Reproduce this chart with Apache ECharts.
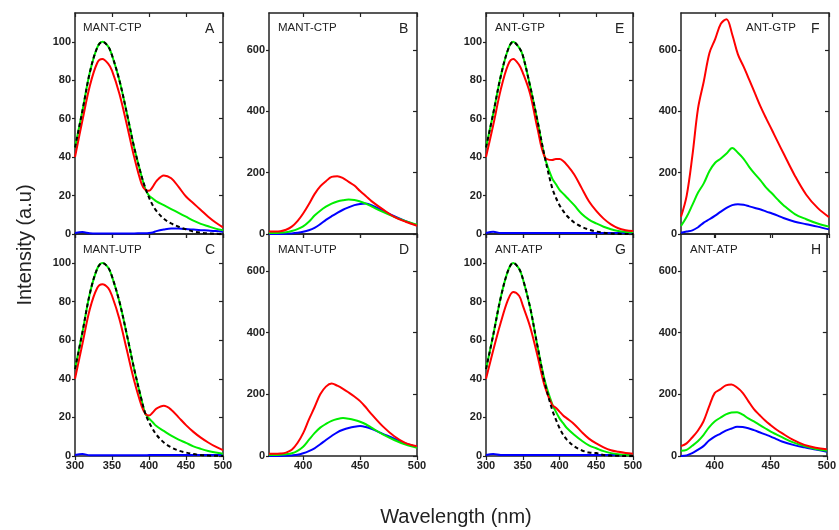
<!DOCTYPE html>
<html><head><meta charset="utf-8">
<script src="https://cdn.jsdelivr.net/npm/echarts@6/dist/echarts.min.js"></script>
<style>html,body{margin:0;padding:0;background:#fff}#c{width:839px;height:530px}</style>
</head><body><div id="c"></div>
<script>
// ---- wavelength grids (nm)
const wlUV  = [300,310,320,330,337,345,350,360,370,380,390,395,400,405,410,420,430,440,450,460,470,480,490,500];
const wlVis = [370,375,380,385,390,395,400,405,410,415,420,425,430,435,440,445,450,455,460,470,480,490,500];

// ---- Panel A: MANT-CTP (normalised)
const blackA = [45,64,84,97,100,97.5,93,80,63,45,30,24,19,15,12,8,5.5,3.8,2.4,1.3,0.7,0.3,0.1,0];
const greenA = [45,64,84,97,100,97.5,93,80,63,45,30,23.5,20,18.5,17,15,13,11,9,7,5.3,4,2.8,2];
const redA   = [40,59,77,89,91,88.5,85,73,57,40,26,23,22.5,24.5,27.5,30.5,29,24.5,19.5,16,12.5,9,6,3.5];
const blueA  = [0.5,1,0.4,0.3,0.3,0.3,0.3,0.3,0.3,0.3,0.4,0.4,0.5,0.8,1.5,2.3,2.8,2.8,2.6,2.3,2,1.8,1.5,1.2];
// ---- Panel C: MANT-UTP (normalised)
const blackC = [45,64,84,97,100,97.5,93,80,63,45,29,22,17.5,14,11,7,4.5,2.8,1.8,1,0.5,0.2,0.1,0];
const greenC = [45,64,84,97,100,97.5,93,80,63,45,29,22,19.5,17.5,15.5,13,10.5,8.5,6.8,5,3.7,2.6,1.8,1.2];
const redC   = [40,58,76,87,89,87,83,71,55,39,26,22,21,22.5,24.5,26,24,20,16,12.5,9.5,7,4.8,3];
const blueC  = [0.5,1,0.4,0.4,0.4,0.4,0.4,0.4,0.4,0.4,0.4,0.4,0.5,0.5,0.5,0.5,0.5,0.5,0.5,0.5,0.5,0.5,0.5,0.5];
// ---- Panel E: ANT-GTP (normalised)
const blackE = [45,63,82,96,100,97,93,77,59,40,24,19,15,12,9.5,6,3.8,2.3,1.3,0.7,0.3,0.1,0,0];
const greenE = [45,63,82,96,100,97,93,77,59,40,29,26,23,21,19,15,10.5,7.5,5.5,3.8,2.5,1.6,1.1,0.8];
const redE   = [40,57,75,88,91,88,84,73,55,40,38.5,39,39,38,36,31,24,17,12,8,5,3,2,1.5];
const blueE  = [0.5,1.2,0.5,0.5,0.5,0.5,0.5,0.5,0.5,0.5,0.5,0.5,0.5,0.5,0.5,0.5,0.5,0.5,0.5,0.5,0.5,0.5,0.5,0.5];
// ---- Panel G: ANT-ATP (normalised)
const blackG = [45,63,82,96,100,97,92,77,57,38,24,19,14.5,11,8.5,5,3,1.8,1.5,0.5,0.2,0.1,0,0];
const greenG = [45,63,82,96,100,97,92,77,57,39,27,23,19.5,17,14.5,11,8,5.5,4,2.5,1.5,0.9,0.5,0.3];
const redG   = [40,55,69,81,85,83,78,67,52,36,26.5,25,23,21,19.5,16.5,12.5,9,6.5,4.5,3,2.2,1.6,1.2];
const blueG  = [0.5,1,0.5,0.5,0.5,0.5,0.5,0.5,0.5,0.5,0.5,0.5,0.5,0.5,0.5,0.5,0.5,0.5,0.5,0.5,0.5,0.5,0.5,0.5];
// ---- Panel B: MANT-CTP (raw)
const redB   = [8,8,9,14,24,42,67,97,130,155,172,186,188,182,170,158,140,124,107,80,56,40,27];
const greenB = [3,3,4,6,10,16,25,40,60,76,89,99,106,110,112,111,106,99,90,72,56,42,30];
const blueB  = [0,0,0,1,2,4,7,12,20,32,46,58,69,79,87,94,98,99,94,76,58,42,28];
// ---- Panel D: MANT-UTP (raw)
const redD   = [7,7,8,11,20,42,74,118,158,200,225,235,228,218,206,193,178,158,136,96,64,42,32];
const greenD = [3,3,4,6,9,17,30,52,74,92,104,114,120,123,121,117,111,103,92,70,52,37,27];
const blueD  = [0,0,0,1,2,4,9,16,25,38,52,65,77,85,91,95,97,94,88,72,56,41,30];
// ---- Panel F: ANT-GTP (raw)
const redF   = [56,125,255,410,497,590,635,685,700,650,585,545,502,458,414,375,338,300,263,190,128,85,55];
const greenF = [26,56,95,135,165,205,232,246,262,280,265,245,218,195,174,150,132,112,94,65,48,34,24];
const blueF  = [4,8,12,22,37,48,60,73,85,94,97,95,90,85,80,73,67,60,52,40,32,24,15];
// ---- Panel H: ANT-ATP (raw)
const redH   = [32,41,60,82,112,160,204,216,229,232,222,205,178,152,133,115,100,86,74,52,36,27,22];
const greenH = [17,20,33,48,68,93,112,124,135,141,142,134,122,112,101,90,79,70,61,44,32,23,17];
const blueH  = [0,2,9,20,32,50,63,72,82,89,95,94,90,84,77,70,63,55,47,36,28,21,14];

// ---- labels
const panelTitles  = ['MANT-CTP','MANT-CTP','ANT-GTP','ANT-GTP','MANT-UTP','MANT-UTP','ANT-ATP','ANT-ATP'];
const panelLetters = ['A','B','E','F','C','D','G','H'];
const ticksUVx  = [300,350,400,450,500];
const ticksVisx = [400,450,500];
const ticksNormY = [0,20,40,60,80,100];
const ticksRawY  = [0,200,400,600];

// ---- layout
const colLeft  = [75, 269, 486, 681];
const colWidth = [148, 148, 147, 148];
const rowTop = [13, 234];
const rowH = [221, 222];
const titleOffset = [8, 9, 9, 65, 8, 9, 9, 9];

const panels = [
  {kind:'uv',  series:[['b',blueA],['g',greenA],['r',redA],['k',blackA]]},
  {kind:'vis', series:[['b',blueB],['g',greenB],['r',redB]]},
  {kind:'uv',  series:[['b',blueE],['g',greenE],['r',redE],['k',blackE]]},
  {kind:'vis', series:[['b',blueF],['g',greenF],['r',redF]]},
  {kind:'uv',  series:[['b',blueC],['g',greenC],['r',redC],['k',blackC]]},
  {kind:'vis', series:[['b',blueD],['g',greenD],['r',redD]]},
  {kind:'uv',  series:[['b',blueG],['g',greenG],['r',redG],['k',blackG]]},
  {kind:'vis', series:[['b',blueH],['g',greenH],['r',redH]]}
];
const colors = {r:'#ff0000', g:'#00ee00', b:'#0000ff', k:'#000000'};
const axisCol = '#222';
const lineAxis = {show:true, onZero:false, lineStyle:{color:axisCol, width:1.5}};

const grid=[], xAxis=[], yAxis=[], series=[], title=[];
panels.forEach((p, i) => {
  const col = i % 4, row = Math.floor(i / 4);
  grid.push({left:colLeft[col], top:rowTop[row], width:colWidth[col], height:rowH[row], show:false});
  const uv = p.kind === 'uv';
  const xmin = uv ? 300 : 370, xmax = 500;
  const xt = uv ? ticksUVx : ticksVisx;
  const ymax = uv ? 115 : 720;
  const yt = uv ? ticksNormY : ticksRawY;
  const xi = xAxis.length, yi = yAxis.length;
  xAxis.push({type:'value', gridIndex:i, min:xmin, max:xmax, position:'bottom',
    axisLine:lineAxis, splitLine:{show:false},
    axisTick:{show:true, inside:false, length:4, customValues:xt, lineStyle:{color:axisCol, width:1.2}},
    axisLabel:{show: row===1, customValues:xt, color:'#222', fontSize:11, fontWeight:'bold', fontFamily:'Arial', margin:4}});
  xAxis.push({type:'value', gridIndex:i, min:xmin, max:xmax, position:'top',
    axisLine:lineAxis, splitLine:{show:false},
    axisTick:{show:true, inside:true, length:4, customValues:xt, lineStyle:{color:axisCol, width:1.2}},
    axisLabel:{show:false}});
  yAxis.push({type:'value', gridIndex:i, min:0, max:ymax, position:'left',
    axisLine:lineAxis, splitLine:{show:false},
    axisTick:{show:true, inside:false, length:3, customValues:yt, lineStyle:{color:axisCol, width:1.2}},
    axisLabel:{customValues:yt, color:'#222', fontSize:11, fontWeight:'bold', fontFamily:'Arial', margin:4}});
  yAxis.push({type:'value', gridIndex:i, min:0, max:ymax, position:'right',
    axisLine:lineAxis, splitLine:{show:false},
    axisTick:{show:true, inside:true, length:4, customValues:yt, lineStyle:{color:axisCol, width:1.2}},
    axisLabel:{show:false}});
  const wl = uv ? wlUV : wlVis;
  p.series.forEach(([c, vals]) => {
    series.push({type:'line', xAxisIndex:xi, yAxisIndex:yi, showSymbol:false, smooth:0.35,
      data: wl.map((w, k) => [w, vals[k]]), animation:false, silent:true,
      lineStyle:{color:colors[c], width:2, type: c==='k' ? [4,3] : 'solid'}, z: c==='k' ? 5 : 3});
  });
  const gl = colLeft[col], gt = rowTop[row];
  title.push({text:panelTitles[i], left:gl+titleOffset[i], top:gt+(row===0?8.5:9.5), padding:0,
    textStyle:{fontSize:11.5, fontWeight:'normal', color:'#222', fontFamily:'Arial'}});
  title.push({text:panelLetters[i], left:gl+colWidth[col]-18, top:gt+9, padding:0,
    textStyle:{fontSize:14, fontWeight:'normal', color:'#222', fontFamily:'Arial'}});
});

const chart = echarts.init(document.getElementById('c'), null, {renderer:'canvas'});
chart.setOption({
  animation:false, backgroundColor:'#fff',
  grid, xAxis, yAxis, series, title,
  graphic:[
    {type:'text', x:25, y:245, rotation:Math.PI/2,
      style:{text:'Intensity (a.u)', font:'20px Arial', fill:'#222', textAlign:'center', textVerticalAlign:'middle', align:'center', verticalAlign:'middle'}},
    {type:'text', x:456, y:517,
      style:{text:'Wavelength (nm)', font:'20px Arial', fill:'#222', textAlign:'center', textVerticalAlign:'middle', align:'center', verticalAlign:'middle'}}
  ]
});
</script></body></html>
